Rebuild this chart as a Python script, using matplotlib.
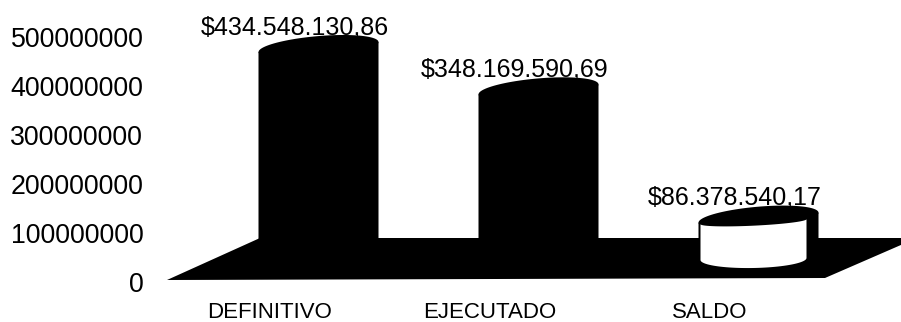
"""Recreate the 3D style budget cylinder chart."""

import matplotlib

matplotlib.use("Agg")
import matplotlib.pyplot as plt
import numpy as np

categories = ["DEFINITIVO", "EJECUTADO", "SALDO"]
values = [434548130.86, 348169590.69, 86378540.17]
value_labels = ["$434.548.130,86", "$348.169.590,69", "$86.378.540,17"]
y_ticks = [0, 100000000, 200000000, 300000000, 400000000, 500000000]
front_colors = ["black", "black", "white"]

W, H = 901, 322
# one pixel in data units
PX_X = 1 / 220
PX_Y = 1e8 / 49

plt.rcParams["font.family"] = ["Liberation Sans", "DejaVu Sans"]


def ellipse(cx, cy, a, b, tilt, t):
    x = cx + a * PX_X * np.cos(t)
    y = cy + (b * np.sin(t) + tilt * np.cos(t)) * PX_Y
    return x, y


fig = plt.figure(figsize=(W / 100, H / 100), dpi=100)
left, right, top, bottom = 160, 901, 37, 282
ax = fig.add_axes([left / W, 1 - bottom / H, (right - left) / W, (bottom - top) / H])
ax.set_xlim((left - 270) * PX_X, (right - 270) * PX_X)
ax.set_ylim(0, 5e8)

# floor
floor_x = np.array([-103, 555, 647, -10]) * PX_X
floor_y = np.array([2, 4, 44, 44]) * PX_Y
ax.fill(floor_x, floor_y, color="black", lw=0, clip_on=False)

base = 22 * PX_Y
tilt = 5
t_all = np.linspace(0, 2 * np.pi, 100)
t_low = np.linspace(np.pi, 2 * np.pi, 50)

for i, (v, lab, col) in enumerate(zip(values, value_labels, front_colors)):
    cx = i + 48.5 * PX_X
    a = 60
    y0 = base
    y1 = base + v
    # body and both ends, the sides follow the tilt of the ellipse
    ax.fill(
        [cx - a * PX_X, cx + a * PX_X, cx + a * PX_X, cx - a * PX_X],
        [y0 - tilt * PX_Y, y0 + tilt * PX_Y, y1 + tilt * PX_Y, y1 - tilt * PX_Y],
        color="black",
        lw=0,
        clip_on=False,
    )
    for yc in (y0, y1):
        ex, ey = ellipse(cx, yc, a, 11, tilt, t_all)
        ax.fill(ex, ey, color="black", lw=0, clip_on=False)
    if col != "black":
        # lit front of the cylinder, the right side stays dark
        fx = cx - 5 * PX_X
        tx, ty = ellipse(fx, y1 - 4 * PX_Y, 53, 4, 2.5, t_low)
        bx, by = ellipse(fx, y0 + 1 * PX_Y, 53, 9, 1, t_low)
        ax.fill(
            np.r_[bx, tx[::-1]], np.r_[by, ty[::-1]], color=col, lw=0, clip_on=False
        )
    ax.text(
        cx - 24 * PX_X,
        y1 + 20 * PX_Y,
        lab,
        ha="center",
        va="center",
        fontsize=18,
        color="black",
        clip_on=False,
    )

ax.set_yticks(y_ticks)
ax.set_yticklabels([str(t) for t in y_ticks], fontsize=19.3)
ax.set_xticks(range(len(categories)))
ax.set_xticklabels(categories, fontsize=16)
ax.tick_params(axis="both", length=0)
ax.tick_params(axis="y", pad=12)
ax.tick_params(axis="x", pad=14.5)
for s in ax.spines.values():
    s.set_visible(False)
ax.patch.set_alpha(0)

fig.savefig("out.png", dpi=100, facecolor="white")
plt.close(fig)
